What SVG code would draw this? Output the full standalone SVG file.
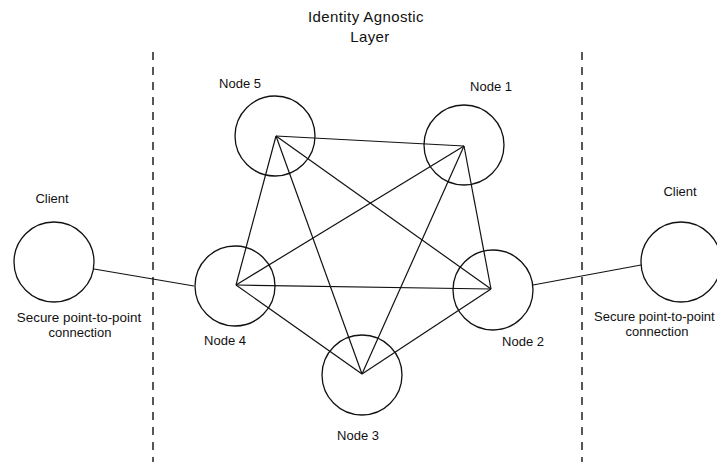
<svg xmlns="http://www.w3.org/2000/svg" width="717" height="462" viewBox="0 0 717 462">
<style>
text{font-family:"Liberation Sans",Arial,sans-serif;font-size:13px;fill:#111;}
.title{font-size:15px;letter-spacing:0.4px;}
.label{font-size:13.4px;}
.node{fill:none;stroke:#111;stroke-width:1.3;}
.edge{stroke:#111;stroke-width:1.2;fill:none;}
.divider{stroke:#111;stroke-width:1.4;stroke-dasharray:8 7;}
</style>
<rect width="717" height="462" fill="#fff"/>
<g id="title">
<text class="title" x="366" y="22" text-anchor="middle">Identity Agnostic</text>
<text class="title" x="370" y="42" text-anchor="middle">Layer</text>
</g>
<g id="dividers">
<line class="divider" x1="153" y1="52" x2="153" y2="462"/>
<line class="divider" x1="582" y1="52" x2="582" y2="462"/>
</g>
<g id="connectors">
<line class="edge" x1="94" y1="269" x2="194" y2="286"/>
<line class="edge" x1="533" y1="285" x2="641" y2="265"/>
<line class="edge" x1="276" y1="136" x2="464" y2="146"/>
<line class="edge" x1="276" y1="136" x2="236" y2="285"/>
<line class="edge" x1="276" y1="136" x2="362" y2="374"/>
<line class="edge" x1="276" y1="136" x2="491" y2="289"/>
<line class="edge" x1="464" y1="146" x2="236" y2="285"/>
<line class="edge" x1="464" y1="146" x2="362" y2="374"/>
<line class="edge" x1="464" y1="146" x2="491" y2="289"/>
<line class="edge" x1="236" y1="285" x2="491" y2="289"/>
<line class="edge" x1="236" y1="285" x2="362" y2="374"/>
<line class="edge" x1="491" y1="289" x2="362" y2="374"/>
</g>
<g id="client-left">
<circle class="node" cx="54" cy="262" r="40"/>
<text x="52" y="203" text-anchor="middle">Client</text>
<text class="label" x="79" y="322" text-anchor="middle">Secure point-to-point</text>
<text x="80" y="337" text-anchor="middle">connection</text>
</g>
<g id="client-right">
<circle class="node" cx="681" cy="262" r="40"/>
<text x="680" y="196" text-anchor="middle">Client</text>
<text x="594" y="321">Secure point-to-point</text>
<text x="657" y="336" text-anchor="middle">connection</text>
</g>
<g id="node5">
<circle class="node" cx="275" cy="136" r="40"/>
<text x="240" y="88" text-anchor="middle">Node 5</text>
</g>
<g id="node1">
<circle class="node" cx="464" cy="145" r="40"/>
<text x="491" y="91" text-anchor="middle">Node 1</text>
</g>
<g id="node4">
<circle class="node" cx="235" cy="286" r="40"/>
<text x="225" y="345" text-anchor="middle">Node 4</text>
</g>
<g id="node2">
<circle class="node" cx="493" cy="290" r="40"/>
<text x="523" y="346" text-anchor="middle">Node 2</text>
</g>
<g id="node3">
<circle class="node" cx="362" cy="375" r="40"/>
<text x="358" y="440" text-anchor="middle">Node 3</text>
</g>
</svg>
